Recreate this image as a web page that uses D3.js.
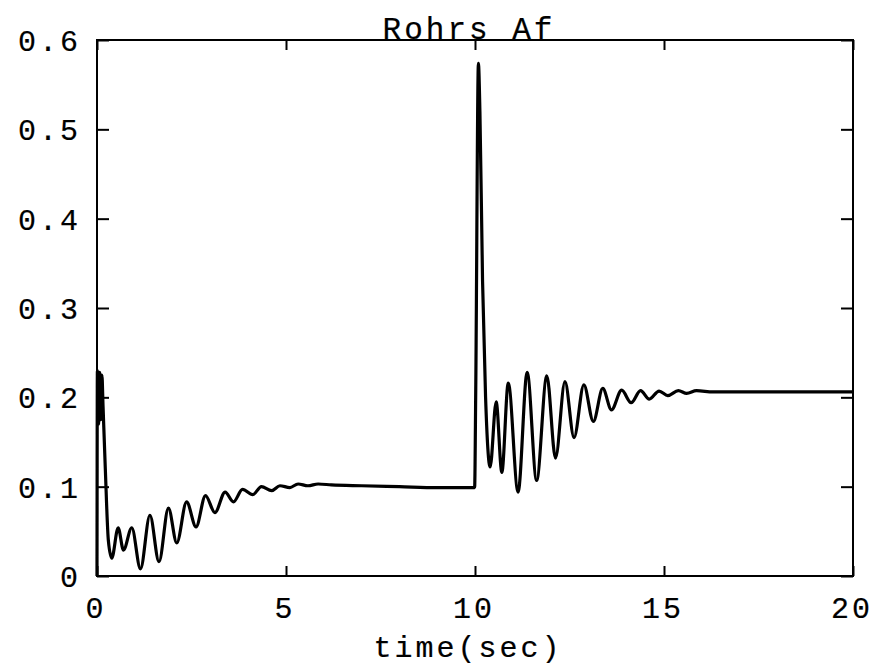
<!DOCTYPE html>
<html>
<head>
<meta charset="utf-8">
<script src="https://cdn.jsdelivr.net/npm/d3@7"></script>
<style>
  html, body { margin: 0; padding: 0; background: #fff; }
  svg { display: block; }
  text { font-family: "Liberation Mono", "DejaVu Sans Mono", monospace; fill: #000; stroke: #000; stroke-width: 0.2px; }
</style>
</head>
<body>
<svg id="chart" width="874" height="668"></svg>
<script>
// ---- data ----
const title = "Rohrs Af";
const xLabel = "time(sec)";
const xTicks = [0, 5, 10, 15, 20];
const xTickLabels = ["0", "5", "10", "15", "20"];
const yTicks = [0, 0.1, 0.2, 0.3, 0.4, 0.5, 0.6];
const yTickLabels = ["0", "0.1", "0.2", "0.3", "0.4", "0.5", "0.6"];

const time = [
  0, 0.01, 0.04, 0.07, 0.10, 0.13, 0.16, 0.22, 0.30, 0.39,
  0.56, 0.70, 0.92, 1.15, 1.40, 1.64, 1.89, 2.11, 2.37, 2.62,
  2.87, 3.12, 3.39, 3.61, 3.85, 4.12, 4.35, 4.62, 4.84, 5.10,
  5.32, 5.58, 5.85, 6.2, 7.0, 8.0, 9.0, 9.99,
  10.02, 10.09, 10.13, 10.20, 10.28, 10.40,
  10.56, 10.71, 10.88, 11.14, 11.38, 11.63, 11.90, 12.13, 12.38, 12.62,
  12.88, 13.13, 13.38, 13.61, 13.88, 14.13, 14.38, 14.61, 14.87, 15.10,
  15.38, 15.60, 15.86, 16.3, 17.0, 18.0, 19.0, 20.0
];
const value = [
  0, 0.230, 0.170, 0.228, 0.175, 0.225, 0.190, 0.120, 0.040, 0.020,
  0.054, 0.029, 0.054, 0.008, 0.068, 0.016, 0.076, 0.037, 0.083, 0.055,
  0.090, 0.071, 0.094, 0.083, 0.097, 0.091, 0.100, 0.0955, 0.101, 0.099,
  0.103, 0.101, 0.103, 0.102, 0.101, 0.100, 0.099, 0.099,
  0.210, 0.574, 0.520, 0.330, 0.200, 0.122,
  0.195, 0.116, 0.216, 0.094, 0.228, 0.107, 0.224, 0.132, 0.2175, 0.155,
  0.214, 0.173, 0.210, 0.186, 0.208, 0.194, 0.2075, 0.198, 0.207, 0.202,
  0.2075, 0.2045, 0.2075, 0.206, 0.206, 0.206, 0.206, 0.206
];

// ---- layout ----
const svg = d3.select("#chart");
const mLeft = 97, mRight = 853, mTop = 40, mBottom = 576;
const fontSize = 30, spacing = 3;

const x = d3.scaleLinear().domain([0, 20]).range([mLeft, mRight]);
const y = d3.scaleLinear().domain([0, 0.6]).range([mBottom, mTop]);

// data line
const pts = time.map((t, i) => [t, value[i]]);
const line = d3.line().x(d => x(d[0])).y(d => y(d[1])).curve(d3.curveMonotoneX);
svg.append("path")
  .attr("d", line(pts))
  .attr("fill", "none")
  .attr("stroke", "#000")
  .attr("stroke-width", 3.2)
  .attr("stroke-linejoin", "round");

// axes (ticks pointing inward)
function styleAxis(g) {
  g.select(".domain").remove();
  g.selectAll(".tick line").attr("stroke", "#000").attr("stroke-width", 2);
  g.selectAll(".tick text")
    .style("font-size", fontSize + "px")
    .style("letter-spacing", spacing + "px")
    .attr("fill", "#000");
}

svg.append("g")
  .attr("transform", `translate(${mLeft},0)`)
  .call(d3.axisLeft(y).tickValues(yTicks).tickFormat((d, i) => yTickLabels[i])
    .tickSizeInner(-12).tickSizeOuter(0).tickPadding(16))
  .call(styleAxis)
  .call(g => g.selectAll(".tick text").attr("dy", "0.35em"));

svg.append("g")
  .attr("transform", `translate(${mRight},0)`)
  .call(d3.axisRight(y).tickValues(yTicks).tickFormat("")
    .tickSizeInner(-12).tickSizeOuter(0))
  .call(styleAxis);

svg.append("g")
  .attr("transform", `translate(0,${mBottom})`)
  .call(d3.axisBottom(x).tickValues(xTicks).tickFormat((d, i) => xTickLabels[i])
    .tickSizeInner(-10).tickSizeOuter(0).tickPadding(21))
  .call(styleAxis)
  .call(g => g.selectAll(".tick text").attr("x", -1.5));

svg.append("g")
  .attr("transform", `translate(0,${mTop})`)
  .call(d3.axisTop(x).tickValues(xTicks).tickFormat("")
    .tickSizeInner(-10).tickSizeOuter(0))
  .call(styleAxis);

// frame
svg.append("rect")
  .attr("x", mLeft).attr("y", mTop)
  .attr("width", mRight - mLeft).attr("height", mBottom - mTop)
  .attr("fill", "none").attr("stroke", "#000").attr("stroke-width", 2);

// title and x label
svg.append("text")
  .attr("x", 469).attr("y", 39)
  .attr("text-anchor", "middle")
  .style("font-size", "31px")
  .style("letter-spacing", spacing + "px")
  .text(title);

svg.append("text")
  .attr("x", 468).attr("y", 657)
  .attr("text-anchor", "middle")
  .style("font-size", fontSize + "px")
  .style("letter-spacing", spacing + "px")
  .text(xLabel);
</script>
</body>
</html>
